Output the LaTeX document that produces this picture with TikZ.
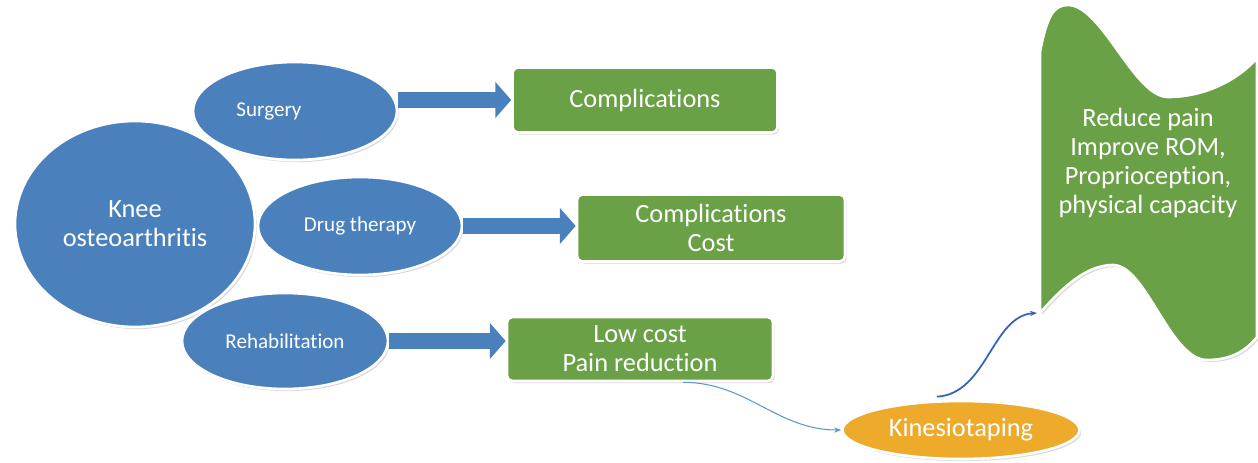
\documentclass[tikz,border=0pt]{standalone}
\usepackage{fontspec}
\setmainfont{Carlito}[Ligatures=NoCommon]
\usetikzlibrary{shapes.geometric,arrows.meta,shadows,calc}
\definecolor{bl}{RGB}{74,129,189}
\definecolor{gr}{RGB}{106,160,70}
\definecolor{og}{RGB}{238,170,42}
\definecolor{ln}{RGB}{88,152,212}
\definecolor{dk}{RGB}{48,98,190}
\tikzset{
  shade/.style={drop shadow={opacity=0.3,shadow xshift=1pt,shadow yshift=-1.2pt}},
  bubble/.style={ellipse,draw=white,line width=1.5pt,fill=bl,text=white,inner sep=0pt,align=center,shade},
  gbox/.style={rectangle,rounded corners=3pt,draw=white,line width=1.5pt,fill=gr,text=white,inner sep=0pt,align=center,shade},
  big/.style={font=\fontsize{15}{16.5}\selectfont},
  small/.style={font=\fontsize{12}{14}\selectfont},
  fat/.style={draw=bl,line width=9.5pt,-{Triangle[length=9pt,width=20pt]}},
}

\begin{document}
\begin{tikzpicture}[x=0.02cm,y=-0.02cm]
        \useasboundingbox (0,0) rectangle (1258,463);
        % left side: the condition and its treatments
        \node[bubble,big,minimum width=4.8cm,minimum height=4.12cm] (knee) at (135,224) {Knee\\osteoarthritis};
        \node[bubble,minimum width=4.08cm,minimum height=1.96cm,
              label={[small,text=white,xshift=-0.52cm]center:Surgery}] (surg) at (295,111) {};
        \node[bubble,small,minimum width=4.08cm,minimum height=1.96cm] (drug) at (360,226) {Drug therapy};
        \node[bubble,small,minimum width=4.12cm,minimum height=1.92cm] (rehab) at (285,341) {Rehabilitation};
        % outcomes
        \node[gbox,big,minimum width=5.3cm,minimum height=1.3cm] (comp) at (645,100) {Complications};
        \node[gbox,big,minimum width=5.36cm,minimum height=1.34cm] (cost) at (711,228) {Complications\\Cost};
        \node[gbox,big,minimum width=5.32cm,minimum height=1.28cm] (low) at (640,349) {Low cost\\Pain reduction};
        \node[bubble,big,fill=og,minimum width=4.74cm,minimum height=1.16cm] (kin) at (961,430) {Kinesiotaping};
        \draw[fat] (surg.east |- comp.west) -- (comp.west);
        \draw[fat] (drug.east) -- (drug.east -| cost.west);
        \draw[fat] (rehab.east) -- (rehab.east -| low.west);
        % wave banner
        \path[fill=gr,draw=white,line width=1.5pt,shade] (1040,52)
            .. controls (1047,15) and (1054,5) .. (1068,5)
            .. controls (1102,5) and (1134,97) .. (1168,97)
            .. controls (1202,97) and (1236,82) .. (1257,58)
            -- (1257,337)
            .. controls (1245,352) and (1230,360) .. (1207,360)
            .. controls (1170,360) and (1146,265) .. (1113,265)
            .. controls (1086,265) and (1062,288) .. (1040,313) -- cycle;
        \node[big,text=white,align=center] (gain) at (1148,163) {Reduce pain\\Improve ROM,\\Proprioception,\\physical capacity};
        \coordinate (tip) at (1037,313);
        \draw[ln,semithick,-{Stealth[length=4pt]}] ($(low.south)+(43,0)$) to[out=0,in=180] (kin.west);
        \draw[dk,line width=1pt,-{Stealth[length=4pt]}] ($(kin.north)+(-24,-3)$)
            .. controls +(50,-3) and +(-45,3) .. (tip);
\end{tikzpicture}
\end{document}
